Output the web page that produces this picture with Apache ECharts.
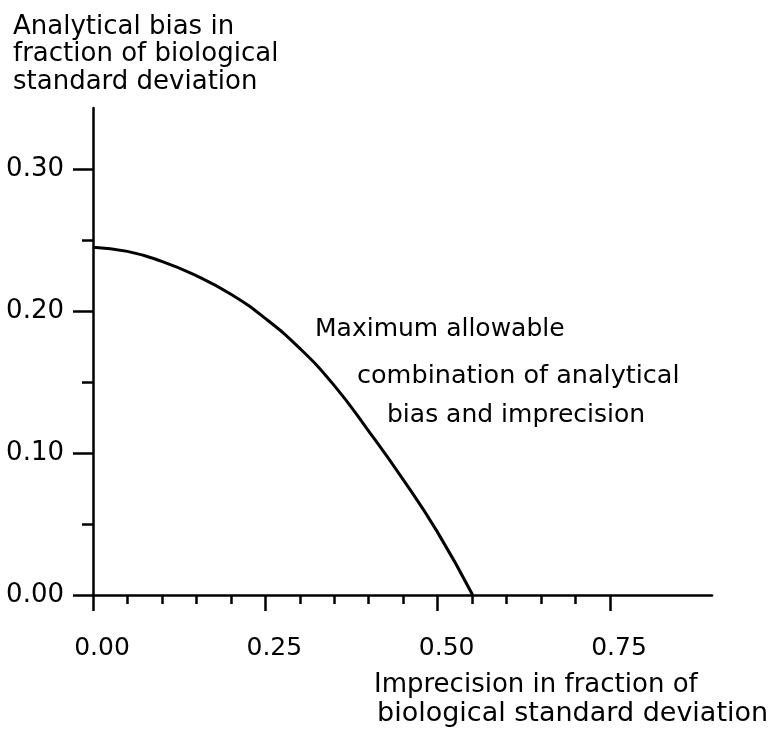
<!DOCTYPE html>
<html>
<head>
<meta charset="utf-8">
<script src="https://cdn.jsdelivr.net/npm/echarts@6/dist/echarts.min.js"></script>
<style>
  html, body { margin: 0; padding: 0; background: #fff; }
  #chart { width: 773px; height: 732px; }
</style>
</head>
<body>
<div id="chart"></div>
<script>
// values
const imprecision = [0, 0.05, 0.10, 0.15, 0.20, 0.25, 0.30, 0.35, 0.40, 0.45, 0.50, 0.552];
const bias = [0.245, 0.242, 0.235, 0.225, 0.212, 0.195, 0.174, 0.148, 0.116, 0.082, 0.045, 0.0];

const xTicks = [0, 0.25, 0.50, 0.75];
const yTicks = [0, 0.10, 0.20, 0.30];
const xEnd = 0.9;
const yEnd = 0.343;

const yTitle = ['Analytical bias in', 'fraction of biological', 'standard deviation'];
const xTitle = ['Imprecision in fraction of', 'biological standard deviation'];
const noteLines = ['Maximum allowable', 'combination of analytical', 'bias and imprecision'];

const FONT = 'DejaVu Sans';
const ink = '#000';

const chart = echarts.init(document.getElementById('chart'), null, { renderer: 'canvas' });

const hiddenAxis = {
  axisLine: { show: true, lineStyle: { color: ink, width: 2.5 } },
  axisTick: { show: false },
  axisLabel: { show: false },
  splitLine: { show: false }
};

const txt = (left, top, text, size, extra) => ({
  type: 'text', left, top,
  style: Object.assign({ text, fill: ink, font: size + 'px "DejaVu Sans"' }, extra || {})
});

const option = {
  backgroundColor: '#fff',
  animation: false,
  grid: [
    // grid for the curve and the long axis lines
    { left: 93, right: 61, top: 108, bottom: 137 },
    // grid that only carries the ticks and labels (same scale, shorter range)
    { left: 93, right: 163, top: 169, bottom: 137 }
  ],
  xAxis: [
    Object.assign({ type: 'value', gridIndex: 0, min: 0, max: xEnd }, hiddenAxis),
    {
      type: 'value',
      gridIndex: 1,
      min: 0,
      max: xTicks[xTicks.length - 1],
      interval: xTicks[1] - xTicks[0],
      axisLine: { show: false },
      axisTick: { show: true, length: 16, lineStyle: { color: ink, width: 2.5 } },
      minorTick: { show: true, splitNumber: 5, length: 9, lineStyle: { color: ink, width: 2.5 } },
      splitLine: { show: false },
      axisLabel: {
        margin: 41,
        color: ink,
        fontFamily: FONT,
        fontSize: 25,
        padding: [0, 0, 0, 18],
        formatter: v => v.toFixed(2)
      }
    }
  ],
  yAxis: [
    Object.assign({ type: 'value', gridIndex: 0, min: 0, max: yEnd }, hiddenAxis),
    {
      type: 'value',
      gridIndex: 1,
      min: 0,
      max: yTicks[yTicks.length - 1],
      interval: yTicks[1] - yTicks[0],
      axisLine: { show: false },
      axisTick: { show: true, length: 20, lineStyle: { color: ink, width: 2.5 } },
      minorTick: { show: true, splitNumber: 2, length: 11, lineStyle: { color: ink, width: 2.5 } },
      splitLine: { show: false },
      axisLabel: {
        margin: 29,
        color: ink,
        fontFamily: FONT,
        fontSize: 26,
        padding: [0, 0, 16, 0],
        formatter: v => v.toFixed(2)
      }
    }
  ],
  graphic: [
    txt(13, 13, yTitle.join('\n'), 26, { lineHeight: 27.5 }),
    txt(374, 672, xTitle[0], 26),
    txt(377, 700, xTitle[1], 27),
    txt(315, 317, noteLines[0], 25),
    txt(357, 363, noteLines[1], 25.5),
    txt(387, 403, noteLines[2], 25)
  ],
  series: [
    {
      name: 'Maximum allowable combination',
      type: 'line',
      xAxisIndex: 0,
      yAxisIndex: 0,
      smooth: true,
      showSymbol: false,
      lineStyle: { color: ink, width: 3 },
      data: imprecision.map((x, i) => [x, bias[i]])
    }
  ]
};

chart.setOption(option);
</script>
</body>
</html>
